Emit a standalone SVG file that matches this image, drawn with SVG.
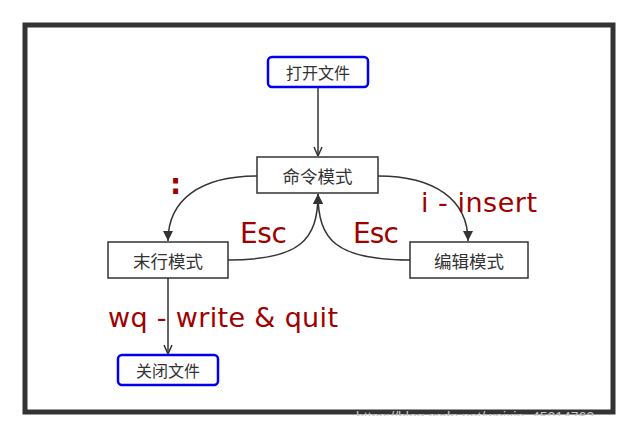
<svg xmlns="http://www.w3.org/2000/svg" width="635" height="438" viewBox="0 0 635 438">
<defs>
<style>
.node rect{fill:#fff;stroke:#333;stroke-width:1.5}
.node.blue rect{stroke:#0000ee;stroke-width:2.5}
.node text{font-family:"Noto Sans CJK SC","Noto Sans",sans-serif;fill:#333;text-anchor:middle;dominant-baseline:central}
.edge{fill:none;stroke:#333;stroke-width:1.5}
.lbl{font-family:"DejaVu Sans","Noto Sans",sans-serif;fill:#a00000}
.wm{font-family:"Liberation Sans",sans-serif;font-size:14px;fill:#c8c8c8}
</style>
<marker id="tri" viewBox="0 0 10 10" refX="10" refY="5" markerWidth="11" markerHeight="10" markerUnits="userSpaceOnUse" orient="auto">
<path d="M0,0 L10,5 L0,10 z" fill="#333"/>
</marker>
<marker id="vee" viewBox="0 0 10 10" refX="10" refY="5" markerWidth="10" markerHeight="10" markerUnits="userSpaceOnUse" orient="auto">
<path d="M1,1 L10,5 L1,9" fill="none" stroke="#333" stroke-width="1.5"/>
</marker>
<clipPath id="wmclip"><rect x="0" y="408" width="635" height="8"/></clipPath>
</defs>
<rect width="635" height="438" fill="#fff"/>
<rect x="25" y="25" width="588" height="387" fill="none" stroke="#333" stroke-width="5"/>
<text class="wm" x="356" y="422" clip-path="url(#wmclip)">https://blog.csdn.net/weixin_45014763</text>
<g id="connectors">
<path class="edge" d="M318,87 L318,156" marker-end="url(#vee)"/>
<path class="edge" d="M257,176 C200,176 168,200 168,241" marker-end="url(#tri)"/>
<path class="edge" d="M378,176 C435,176 468,200 468,241" marker-end="url(#tri)"/>
<path class="edge" d="M228,260 C300,260 318,240 318,194" marker-end="url(#tri)"/>
<path class="edge" d="M410,260 C336,260 318,240 318,194" marker-end="url(#tri)"/>
<path class="edge" d="M168,278 L168,354" marker-end="url(#vee)"/>
</g>
<g id="labels">
<text class="lbl" x="170" y="194" font-size="28" font-weight="bold">:</text>
<text class="lbl" x="240" y="243" font-size="28" textLength="47">Esc</text>
<text class="lbl" x="353" y="243" font-size="28" textLength="46">Esc</text>
<text class="lbl" x="421" y="212" font-size="27" textLength="116">i - insert</text>
<text class="lbl" x="108" y="327" font-size="27" textLength="230">wq - write &amp; quit</text>
</g>
<g id="open" class="node blue"><rect x="268" y="57" width="100" height="30" rx="4"/><text x="318" y="72" font-size="16">打开文件</text></g>
<g id="cmd" class="node"><rect x="257" y="157" width="121" height="36"/><text x="317.5" y="175" font-size="17.5">命令模式</text></g>
<g id="last" class="node"><rect x="108" y="242" width="120" height="36"/><text x="168" y="260" font-size="17.5">末行模式</text></g>
<g id="edit" class="node"><rect x="410" y="242" width="118" height="36"/><text x="469" y="260" font-size="17.5">编辑模式</text></g>
<g id="close" class="node blue"><rect x="118" y="355" width="100" height="30" rx="4"/><text x="168" y="370" font-size="16">关闭文件</text></g>
</svg>
